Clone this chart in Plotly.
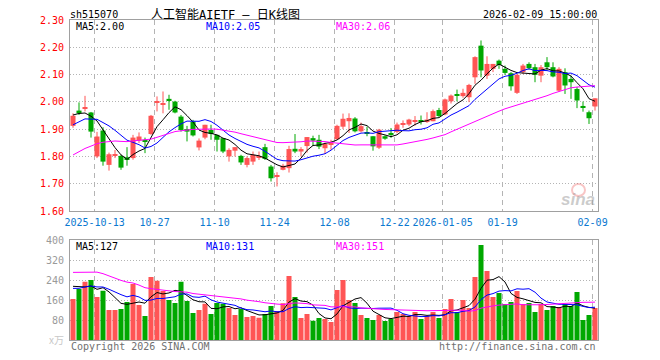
import plotly.graph_objects as go
import pandas as pd
import numpy as np

# ---------------- data ----------------
holidays = ["2025-10-01", "2025-10-02", "2025-10-03", "2025-10-06", "2025-10-07",
            "2025-10-08", "2026-01-01", "2026-01-02"]
trade_dates = [d.strftime("%Y-%m-%d") for d in pd.bdate_range("2025-09-29", "2026-02-09")
               if d.strftime("%Y-%m-%d") not in holidays]

opens = [1.912, 1.968, 1.975, 1.961, 1.800, 1.895, 1.769, 1.803, 1.802, 1.797,
         1.794, 1.858, 1.861, 1.882, 1.996, 1.990, 2.011, 2.001, 1.946, 1.900,
         1.928, 1.833, 1.869, 1.897, 1.879, 1.867, 1.800, 1.821, 1.802, 1.769,
         1.781, 1.796, 1.834, 1.763, 1.727, 1.751, 1.757, 1.828, 1.818, 1.838,
         1.867, 1.861, 1.830, 1.844, 1.863, 1.909, 1.929, 1.939, 1.892, 1.886,
         1.874, 1.832, 1.874, 1.886, 1.890, 1.916, 1.917, 1.929, 1.933, 1.926,
         1.929, 1.970, 1.954, 2.002, 2.027, 2.021, 2.017, 2.090, 2.206, 2.096,
         2.121, 2.151, 2.121, 2.105, 2.033, 2.109, 2.139, 2.127, 2.096, 2.145,
         2.127, 2.041, 2.109, 2.084, 2.047, 1.985, 1.962, 1.983]
highs = [1.958, 1.998, 2.022, 1.963, 1.890, 1.907, 1.814, 1.824, 1.806, 1.834,
         1.879, 1.888, 1.869, 1.952, 2.020, 2.038, 2.026, 2.004, 1.952, 1.912,
         1.934, 1.866, 1.916, 1.916, 1.879, 1.867, 1.830, 1.834, 1.806, 1.800,
         1.818, 1.818, 1.846, 1.769, 1.742, 1.773, 1.839, 1.882, 1.834, 1.871,
         1.876, 1.879, 1.851, 1.861, 1.916, 1.957, 1.958, 1.944, 1.924, 1.909,
         1.874, 1.901, 1.877, 1.904, 1.924, 1.932, 1.938, 1.948, 1.950, 1.962,
         1.972, 1.978, 2.012, 2.027, 2.045, 2.048, 2.066, 2.167, 2.225, 2.167,
         2.139, 2.155, 2.133, 2.109, 2.102, 2.139, 2.145, 2.139, 2.135, 2.164,
         2.145, 2.127, 2.123, 2.096, 2.054, 2.001, 1.968, 2.013]
lows = [1.905, 1.952, 1.965, 1.869, 1.794, 1.766, 1.748, 1.794, 1.751, 1.766,
        1.788, 1.849, 1.812, 1.879, 1.965, 1.958, 1.971, 1.958, 1.891, 1.855,
        1.873, 1.822, 1.863, 1.861, 1.818, 1.812, 1.781, 1.800, 1.769, 1.760,
        1.769, 1.787, 1.787, 1.708, 1.690, 1.749, 1.741, 1.812, 1.800, 1.814,
        1.838, 1.827, 1.809, 1.824, 1.861, 1.900, 1.886, 1.888, 1.888, 1.874,
        1.821, 1.827, 1.861, 1.868, 1.885, 1.905, 1.911, 1.913, 1.917, 1.923,
        1.929, 1.945, 1.951, 1.994, 2.002, 2.015, 1.999, 2.066, 2.090, 2.084,
        2.109, 2.121, 2.099, 2.041, 2.029, 2.102, 2.118, 2.072, 2.072, 2.115,
        2.090, 2.038, 2.029, 2.011, 1.977, 1.964, 1.919, 1.968]
closes = [1.949, 1.958, 1.979, 1.891, 1.873, 1.781, 1.808, 1.808, 1.759, 1.790,
          1.869, 1.873, 1.855, 1.949, 2.000, 1.995, 2.004, 1.961, 1.897, 1.891,
          1.877, 1.858, 1.916, 1.882, 1.861, 1.818, 1.824, 1.834, 1.778, 1.794,
          1.806, 1.800, 1.791, 1.720, 1.730, 1.766, 1.827, 1.818, 1.827, 1.871,
          1.858, 1.836, 1.846, 1.849, 1.912, 1.938, 1.941, 1.892, 1.911, 1.883,
          1.837, 1.898, 1.865, 1.879, 1.917, 1.921, 1.935, 1.933, 1.929, 1.935,
          1.966, 1.948, 2.009, 2.023, 2.023, 2.033, 2.062, 2.164, 2.115, 2.139,
          2.139, 2.135, 2.106, 2.057, 2.099, 2.133, 2.123, 2.099, 2.127, 2.127,
          2.093, 2.121, 2.060, 2.072, 2.005, 1.981, 1.940, 2.013]
volumes = [164, 204, 233, 240, 172, 197, 120, 120, 124, 152,
           224, 140, 96, 252, 237, 196, 160, 148, 233, 156,
           108, 120, 145, 104, 148, 145, 128, 100, 124, 92,
           96, 89, 104, 136, 116, 147, 256, 172, 88, 104,
           77, 88, 84, 72, 200, 240, 160, 148, 100, 88,
           80, 100, 76, 84, 112, 104, 96, 112, 84, 96,
           112, 88, 124, 164, 112, 160, 128, 252, 380, 276,
           172, 188, 144, 152, 196, 144, 148, 112, 144, 120,
           136, 132, 144, 136, 192, 80, 100, 128]
# sessions before the visible window (only feed the moving averages)
prev_closes = [1.60, 1.62, 1.63, 1.61, 1.62,
               1.72, 1.76, 1.80, 1.82, 1.79, 1.81, 1.84, 1.83,
               1.80, 1.78, 1.76, 1.79, 1.81, 1.78, 1.83,
               1.85, 1.87, 1.90, 1.88, 1.90,
               1.93, 1.97, 1.95, 1.96]
prev_volumes = [210, 190, 220, 200,
                380, 420, 350, 400, 360, 330, 390, 410, 370, 350,
                260, 240, 230, 250, 220, 270, 200, 180, 200, 210,
                200, 210, 240, 220, 240]

tick_dates = ["2025-10-13", "2025-10-27", "2025-11-10", "2025-11-24", "2025-12-08",
              "2025-12-22", "2026-01-05", "2026-01-19", "2026-02-09"]
tick_labels = ["2025-10-13", "10-27", "11-10", "11-24", "12-08",
               "12-22", "2026-01-05", "01-19", "02-09"]
price_ticks = [1.60, 1.70, 1.80, 1.90, 2.00, 2.10, 2.20, 2.30]
vol_ticks = [80, 160, 240, 320, 400]
ma_windows = [5, 10, 30]

symbol = "sh515070"
title_text = "人工智能AIETF — 日K线图"
stamp = "2026-02-09 15:00:00"

# ---------------- styling ----------------
PAGE_OFF = 8                      # default body margin of the html page
W, H = 660 - PAGE_OFF, 360 - PAGE_OFF
MONO = "DejaVu Sans Mono, Liberation Mono, monospace"
RED = "#ff5555"
GREEN = "#00a800"
MA_COLORS = ["#000000", "#0000ff", "#ff00ff"]
GRID = "#b4b4b4"
BORDER = "#a0a0a0"


def px(x):
    return (x - PAGE_OFF) / W


def py(y):
    return 1 - (y - PAGE_OFF) / H


n = len(closes)
idx = np.arange(n)
o = np.array(opens); c = np.array(closes); hi = np.array(highs); lo = np.array(lows)
v = np.array(volumes)
up = c >= o

cs = pd.Series(prev_closes + closes)
vs = pd.Series(prev_volumes + volumes)
ma_price = [cs.rolling(w).mean().values[len(prev_closes):] for w in ma_windows]
ma_vol = [vs.rolling(w).mean().values[len(prev_volumes):] for w in ma_windows]

fig = go.Figure()

# wicks
for mask, col in ((up, RED), (~up, GREEN)):
    xs, ys = [], []
    for i in idx[mask]:
        xs += [i, i, None]
        ys += [lo[i], hi[i], None]
    fig.add_trace(go.Scatter(x=xs, y=ys, mode="lines", line=dict(color=col, width=1),
                             hoverinfo="skip", xaxis="x", yaxis="y"))

# bodies
for mask, col in ((up, RED), (~up, GREEN)):
    base = np.minimum(o, c)[mask]
    hgt = np.maximum(np.abs(c - o)[mask], 0.0036)
    fig.add_trace(go.Bar(x=idx[mask], y=hgt, base=base, width=0.84,
                         marker=dict(color=col, line=dict(width=0)),
                         xaxis="x", yaxis="y"))

# price MAs
for ma, col in zip(ma_price, MA_COLORS):
    fig.add_trace(go.Scatter(x=idx, y=ma, mode="lines", line=dict(color=col, width=1),
                             xaxis="x", yaxis="y"))

# volume
for mask, col in ((up, RED), (~up, GREEN)):
    fig.add_trace(go.Bar(x=idx[mask], y=v[mask], width=0.84,
                         marker=dict(color=col, line=dict(width=0)),
                         xaxis="x2", yaxis="y2"))
for ma, col in zip(ma_vol, MA_COLORS):
    fig.add_trace(go.Scatter(x=idx, y=ma, mode="lines", line=dict(color=col, width=1),
                             xaxis="x2", yaxis="y2"))

grid_pos = [trade_dates.index(d) - 0.4 for d in tick_dates]
xdom = [px(70), px(598)]

common_x = dict(domain=xdom, range=[-0.5, n - 0.5], tickvals=grid_pos, showgrid=True,
                gridcolor=GRID, griddash="5px,4px", gridwidth=1, zeroline=False,
                showline=True, linecolor=BORDER, linewidth=1, mirror=True, ticks="",
                fixedrange=True, automargin=False, tickangle=0)

fig.update_layout(
    width=W, height=H, margin=dict(l=0, r=0, t=0, b=0, autoexpand=False),
    paper_bgcolor="white", plot_bgcolor="white", showlegend=False, barmode="overlay",
    xaxis=dict(**common_x, ticktext=tick_labels, anchor="y", ticklabelstandoff=2,
               tickfont=dict(family=MONO, size=10, color="#0a78d0")),
    yaxis=dict(domain=[py(211), py(20)], range=[1.6, 2.3], tickvals=price_ticks,
               ticktext=[f"{t:.2f}" for t in price_ticks], showgrid=True, gridcolor=GRID,
               griddash="1px,2px", zeroline=False, showline=True, linecolor=BORDER,
               mirror=True, ticks="", anchor="x", ticklabelstandoff=3, automargin=False,
               tickfont=dict(family=MONO, size=10, color="#ff0000")),
    xaxis2=dict(**common_x, showticklabels=False, anchor="y2"),
    yaxis2=dict(domain=[py(340), py(240)], range=[0, 400], tickvals=vol_ticks,
                ticktext=[str(t) for t in vol_ticks], showgrid=True, gridcolor=GRID,
                griddash="1px,2px", zeroline=False, showline=True, linecolor=BORDER,
                mirror=True, ticks="", anchor="x2", ticklabelstandoff=3, automargin=False,
                tickfont=dict(family=MONO, size=10, color="#9a9a9a")),
)

ann = []


def text(x, y, s, color, size=10, anchor="left", family=MONO, pad=1):
    ann.append(dict(x=px(x), y=py(y), xref="paper", yref="paper", text=s, showarrow=False,
                    xanchor=anchor, yanchor="middle", borderpad=pad,
                    font=dict(family=family, size=size, color=color)))


text(69, 14, symbol, "#000000", pad=0)
text(150, 14, title_text, "#000000", size=12, pad=0,
     family="DejaVu Sans Mono, Noto Sans CJK SC, sans-serif")
text(598, 14, stamp, "#000000", anchor="right", pad=0)

ma_x = [74, 204, 334]
for k, w in enumerate(ma_windows):
    text(ma_x[k], 26, f"MA{w}:{ma_price[k][-1]:.2f}", MA_COLORS[k])
    text(ma_x[k], 246, f"MA{w}:{ma_vol[k][-1]:.0f}", MA_COLORS[k])

text(66, 339, "x万", "#c8c8c8", anchor="right", family="Noto Sans CJK SC, sans-serif")
text(69, 346, "Copyright 2026 SINA.COM", "#707070")
text(598, 346, "http://finance.sina.com.cn", "#707070", anchor="right")
text(597, 199, "<b><i>sina</i></b>", "rgba(160,160,160,0.55)", size=17, anchor="right",
     family="Arial, Liberation Sans, sans-serif")
fig.update_layout(annotations=ann)

fig.add_shape(type="circle", xref="paper", yref="paper",
              x0=px(572), x1=px(585), y0=py(196), y1=py(184),
              line=dict(color="rgba(235,90,90,0.35)", width=2))

fig.write_html("out.html")
